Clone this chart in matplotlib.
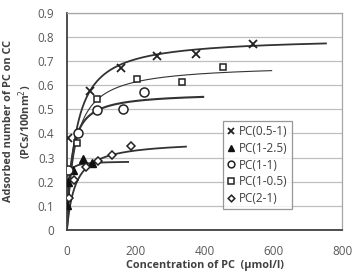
import numpy as np
import matplotlib.pyplot as plt

plt.rcParams['font.family'] = ['Open Sans', 'DejaVu Sans']

# measured points (concentration umol/l, adsorbed number)
x_05_1 = [3, 67, 157, 262, 375, 541]
y_05_1 = [0.38, 0.577, 0.672, 0.722, 0.73, 0.772]
x_1_25 = [1, 3, 17, 46, 72]
y_1_25 = [0.105, 0.197, 0.25, 0.293, 0.278]
x_1_1 = [3, 33, 87, 163, 224]
y_1_1 = [0.248, 0.40, 0.498, 0.50, 0.573]
x_1_05 = [28, 88, 203, 335, 454]
y_1_05 = [0.36, 0.543, 0.626, 0.613, 0.676]
x_2_1 = [7, 20, 55, 90, 131, 187]
y_2_1 = [0.133, 0.208, 0.261, 0.286, 0.311, 0.347]

# Langmuir trend lines: (qmax, half-saturation conc, x end)
fit_05_1 = (0.80, 26.0, 753)
fit_1_25 = (0.285, 2.0, 178)
fit_1_1 = (0.570, 13.2, 396)
fit_1_05 = (0.687, 23.9, 595)
fit_2_1 = (0.370, 24.8, 346)

labels = ['PC(0.5-1)', 'PC(1-2.5)', 'PC(1-1)', 'PC(1-0.5)', 'PC(2-1)']


def langmuir(p):
    qm, a, xe = p
    xs = np.linspace(0, xe, 400)
    return xs, qm * xs / (a + xs)


fig = plt.figure(figsize=(3.56, 2.74), dpi=100)
ax = fig.add_axes([0.188, 0.161, 0.773, 0.792])

lc = '#333333'
for p, lw in [(fit_05_1, 1.3), (fit_1_25, 1.3), (fit_1_1, 1.5), (fit_1_05, 0.8), (fit_2_1, 1.3)]:
    xs, ys = langmuir(p)
    ax.plot(xs, ys, color=lc, lw=lw, zorder=2)

ms = 5.5
ax.plot(x_05_1, y_05_1, 'x', color='#222222', ms=ms, mew=1.3, ls='none', label=labels[0], zorder=3)
ax.plot(x_1_25, y_1_25, '^', color='#111111', ms=ms, ls='none', label=labels[1], zorder=3)
ax.plot(x_1_1, y_1_1, 'o', mfc='white', mec='#222222', ms=ms + 1, mew=1.1, ls='none', label=labels[2], zorder=3)
ax.plot(x_1_05, y_1_05, 's', mfc='white', mec='#222222', ms=ms - 0.5, mew=1.1, ls='none', label=labels[3], zorder=3)
ax.plot(x_2_1, y_2_1, 'D', mfc='white', mec='#222222', ms=ms - 1, mew=1.1, ls='none', label=labels[4], zorder=3)

ax.set_xlim(0, 800)
ax.set_ylim(0, 0.9)
ax.set_xticks([0, 200, 400, 600, 800])
ax.set_yticks(np.arange(0, 0.91, 0.1))
ax.set_yticklabels(['0'] + ['%.1f' % v for v in np.arange(0.1, 0.91, 0.1)])
ax.yaxis.grid(True, color='#bfbfbf', lw=0.9)
ax.set_axisbelow(True)
ax.tick_params(length=0, labelsize=8.5, colors='#595959')
ax.tick_params(axis='x', pad=11)
ax.tick_params(axis='y', pad=9)
for s in ['top', 'right']:
    ax.spines[s].set_color('#a6a6a6')
    ax.spines[s].set_linewidth(0.9)
for s in ['left', 'bottom']:
    ax.spines[s].set_color('#404040')
    ax.spines[s].set_linewidth(1.3)

ax.set_xlabel('Concentration of PC  (μmol/l)', fontsize=7.8, fontweight='bold', color='#404040', labelpad=1)
ax.set_ylabel('Adsorbed number of PC on CC\n(PCs/100nm$^2$)', fontsize=7.8, fontweight='bold',
              color='#404040', labelpad=3, linespacing=1.15)

leg = ax.legend(loc='lower left', bbox_to_anchor=(0.545, 0.07), fontsize=8.5, frameon=True, fancybox=False,
                handlelength=0.7, handletextpad=0.3, borderpad=0.35, labelspacing=0.3, markerscale=0.75)
leg.get_frame().set_edgecolor('#7f7f7f')
leg.get_frame().set_linewidth(0.9)
for t in leg.get_texts():
    t.set_color('#404040')

fig.savefig('out.png', dpi=100)
